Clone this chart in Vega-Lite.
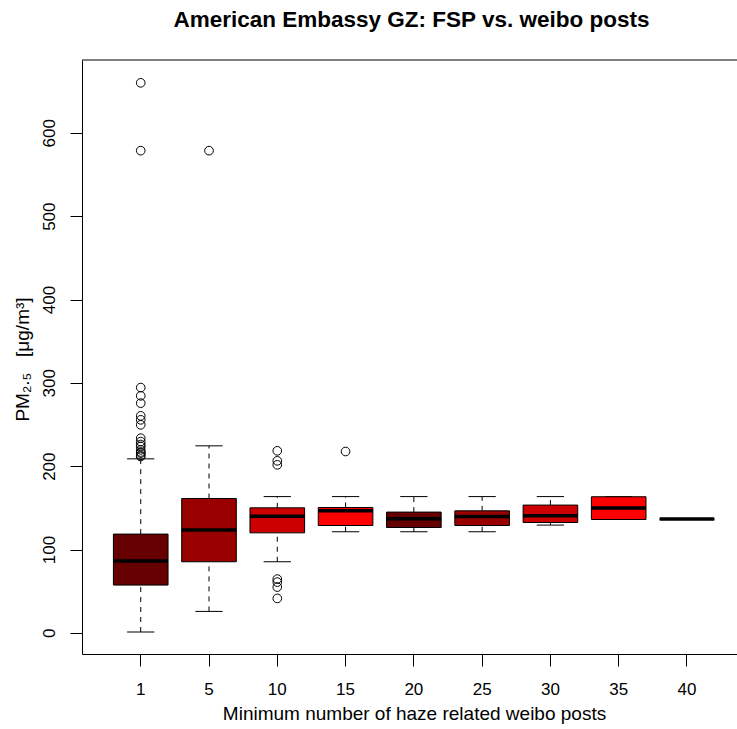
{
  "$schema": "https://vega.github.io/schema/vega-lite/v6.json",
  "width": 655,
  "height": 594,
  "autosize": {"type": "none"},
  "padding": {"left": 82, "top": 60, "right": 0, "bottom": 75},
  "background": "white",
  "config": {
    "font": "Liberation Sans",
    "view": {"stroke": null},
    "axis": {"domainColor": "black", "tickColor": "black", "labelColor": "black", "titleColor": "black", "grid": false, "domainWidth": 1, "tickWidth": 1}
  },
  "title": {"text": "American Embassy GZ: FSP vs. weibo posts", "fontSize": 22.5, "fontWeight": "bold", "anchor": "middle", "frame": "group", "dx": 2, "offset": 28, "color": "black"},
  "datasets": {
    "boxes": [
      {"g": "1", "lo": 1, "q1": 57.3, "med": 86.1, "q3": 118.5, "hi": 208.8},
      {"g": "5", "lo": 25.7, "q1": 85.3, "med": 123.3, "q3": 161.2, "hi": 224.4},
      {"g": "10", "lo": 85.3, "q1": 120, "med": 140, "q3": 150, "hi": 163.5},
      {"g": "15", "lo": 121.3, "q1": 128.8, "med": 146.4, "q3": 150.4, "hi": 163.5},
      {"g": "20", "lo": 121.3, "q1": 126.4, "med": 136.8, "q3": 144.9, "hi": 163.5},
      {"g": "25", "lo": 121.3, "q1": 128.8, "med": 139.6, "q3": 146.4, "hi": 163.5},
      {"g": "30", "lo": 129.3, "q1": 132.4, "med": 140.4, "q3": 153.3, "hi": 163.5},
      {"g": "35", "lo": 136, "q1": 136, "med": 149.7, "q3": 163.3, "hi": 163.3},
      {"g": "40", "lo": 136.5, "q1": 136.5, "med": 136.5, "q3": 136.5, "hi": 136.5}
    ],
    "outliers": [
      {"g": "1", "v": 660}, {"g": "1", "v": 578.6}, {"g": "1", "v": 294.3}, {"g": "1", "v": 284.4}, {"g": "1", "v": 275.6},
      {"g": "1", "v": 260.4}, {"g": "1", "v": 255.6}, {"g": "1", "v": 249.6}, {"g": "1", "v": 233.6}, {"g": "1", "v": 229.5},
      {"g": "1", "v": 226}, {"g": "1", "v": 223.6}, {"g": "1", "v": 219.6}, {"g": "1", "v": 217}, {"g": "1", "v": 215.6},
      {"g": "1", "v": 213}, {"g": "1", "v": 211.6},
      {"g": "5", "v": 578.6},
      {"g": "10", "v": 218.4}, {"g": "10", "v": 206.4}, {"g": "10", "v": 201.6}, {"g": "10", "v": 64.5}, {"g": "10", "v": 60.9}, {"g": "10", "v": 54.9}, {"g": "10", "v": 41.3},
      {"g": "15", "v": 217.6}
    ],
    "frame": [{"top": 687.4}]
  },
  "data": {"name": "boxes"},
  "layer": [
    {"mark": {"type": "rule", "strokeDash": [5, 5], "color": "black", "strokeWidth": 1},
     "encoding": {
       "x": {"field": "g", "type": "ordinal",
         "scale": {"type": "band", "domain": ["1", "5", "10", "15", "20", "25", "30", "35", "40"], "paddingInner": 0.2, "paddingOuter": 0.46, "range": [0, 663.7]},
         "axis": {"title": "Minimum number of haze related weibo posts", "labelAngle": 0, "labelFontSize": 17, "titleFontSize": 19, "titleFontWeight": "normal", "tickSize": 12, "labelPadding": 15, "titleX": 332, "titleY": 65, "titleBaseline": "alphabetic"}},
       "y": {"field": "lo", "type": "quantitative", "scale": {"domain": [-25.4, 687.4], "nice": false, "zero": false},
         "axis": {"values": [0, 100, 200, 300, 400, 500, 600], "labelAngle": -90, "labelFontSize": 17, "tickSize": 12, "labelPadding": 12, "title": "PM₂.₅\u00a0\u00a0\u00a0[μg/m³]", "titleFontSize": 19, "titleFontWeight": "normal", "titleX": -60, "titleY": 299, "titleAngle": -90, "titleBaseline": "middle", "titleAlign": "center"}},
       "y2": {"field": "q1"}}},
    {"mark": {"type": "rule", "strokeDash": [5, 5], "color": "black", "strokeWidth": 1},
     "encoding": {"x": {"field": "g", "type": "ordinal"}, "y": {"field": "q3", "type": "quantitative"}, "y2": {"field": "hi"}}},
    {"mark": {"type": "tick", "color": "black", "size": 27.3, "thickness": 1, "opacity": 1},
     "encoding": {"x": {"field": "g", "type": "ordinal"}, "y": {"field": "lo", "type": "quantitative"}}},
    {"mark": {"type": "tick", "color": "black", "size": 27.3, "thickness": 1, "opacity": 1},
     "encoding": {"x": {"field": "g", "type": "ordinal"}, "y": {"field": "hi", "type": "quantitative"}}},
    {"mark": {"type": "bar", "stroke": "black", "strokeWidth": 1, "opacity": 1},
     "encoding": {"x": {"field": "g", "type": "ordinal"}, "y": {"field": "q1", "type": "quantitative"}, "y2": {"field": "q3"},
       "color": {"field": "g", "type": "nominal", "legend": null,
         "scale": {"domain": ["1", "5", "10", "15", "20", "25", "30", "35", "40"], "range": ["#660000", "#990000", "#CC0000", "#FF0000", "#660000", "#990000", "#CC0000", "#FF0000", "#660000"]}}}},
    {"mark": {"type": "tick", "color": "black", "size": 54.6, "thickness": 3.5, "opacity": 1},
     "encoding": {"x": {"field": "g", "type": "ordinal"}, "y": {"field": "med", "type": "quantitative"}}},
    {"data": {"name": "outliers"},
     "mark": {"type": "point", "shape": "circle", "filled": false, "stroke": "black", "strokeWidth": 1, "size": 75, "opacity": 1},
     "encoding": {"x": {"field": "g", "type": "ordinal"}, "y": {"field": "v", "type": "quantitative"}}},
    {"data": {"name": "frame"},
     "mark": {"type": "rule", "color": "black", "strokeWidth": 1},
     "encoding": {"y": {"field": "top", "type": "quantitative"}}}
  ]
}
